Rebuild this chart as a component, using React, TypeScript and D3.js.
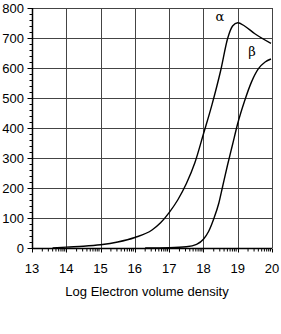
import React, { useRef, useEffect } from 'react';
import * as d3 from 'd3';

// log electron volume density vs value
const alphaX = [13.6, 14, 14.5, 15, 15.5, 16, 16.5, 16.75, 17, 17.25, 17.5, 17.75, 18, 18.25, 18.5, 18.71, 18.85, 19.0, 19.2, 19.5, 19.97];
const alphaY = [0, 3, 6, 11, 20, 35, 60, 84, 118, 160, 214, 284, 380, 478, 590, 700, 740, 751, 740, 714, 682];

const betaX = [16.3, 17, 17.5, 17.8, 18, 18.15, 18.31, 18.45, 18.56, 18.7, 18.85, 19.0, 19.2, 19.4, 19.6, 19.8, 19.97];
const betaY = [0, 1, 4, 12, 29, 55, 100, 150, 205, 275, 345, 415, 490, 553, 597, 620, 630];

const xTicks = [13, 14, 15, 16, 17, 18, 19, 20];
const yTicks = [0, 100, 200, 300, 400, 500, 600, 700, 800];
const xTitle = 'Log Electron volume density';

const App = () => {
    const ref = useRef<SVGSVGElement>(null);

    useEffect(() => {
        const svg = d3.select(ref.current);
        svg.selectAll('*').remove();

        const left = 32, right = 272, top = 8, bottom = 248;
        const font = '"Liberation Sans", Arial, Helvetica, sans-serif';

        const x = d3.scaleLinear().domain([13, 20]).range([left, right]);
        const y = d3.scaleLinear().domain([0, 800]).range([bottom, top]);
        const crisp = (v: number) => Math.round(v) + 0.5;

        // grid
        const grid = svg.append('g').attr('stroke', '#444').attr('stroke-width', 1);
        grid.selectAll('line.v')
            .data(xTicks.slice(1))
            .enter()
            .append('line')
            .attr('x1', d => crisp(x(d))).attr('x2', d => crisp(x(d)))
            .attr('y1', top).attr('y2', bottom);
        grid.selectAll('line.h')
            .data(yTicks.slice(1))
            .enter()
            .append('line')
            .attr('x1', left).attr('x2', right)
            .attr('y1', d => crisp(y(d))).attr('y2', d => crisp(y(d)));

        // y minor ticks (every 20)
        const yMinor = d3.range(0, 801, 20).filter(v => v % 100 !== 0);
        svg.append('g').attr('stroke', '#000')
            .selectAll('line')
            .data(yMinor)
            .enter()
            .append('line')
            .attr('x1', crisp(x(13)) - 3).attr('x2', crisp(x(13)))
            .attr('y1', d => crisp(y(d))).attr('y2', d => crisp(y(d)));
        svg.append('g').attr('stroke', '#000')
            .selectAll('line')
            .data(yTicks)
            .enter()
            .append('line')
            .attr('x1', crisp(x(13)) - 5).attr('x2', crisp(x(13)))
            .attr('y1', d => crisp(y(d))).attr('y2', d => crisp(y(d)));

        // x minor ticks at log positions
        const xMinor: number[] = [];
        xTicks.slice(0, -1).forEach(t => d3.range(2, 10).forEach(k => xMinor.push(t + Math.log10(k))));
        svg.append('g').attr('stroke', '#000')
            .selectAll('line')
            .data(xMinor)
            .enter()
            .append('line')
            .attr('x1', d => x(d)).attr('x2', d => x(d))
            .attr('y1', crisp(y(0))).attr('y2', crisp(y(0)) + 3);
        svg.append('g').attr('stroke', '#000')
            .selectAll('line')
            .data(xTicks)
            .enter()
            .append('line')
            .attr('x1', d => crisp(x(d))).attr('x2', d => crisp(x(d)))
            .attr('y1', crisp(y(0))).attr('y2', crisp(y(0)) + 4);

        // axes lines
        svg.append('line')
            .attr('x1', crisp(left)).attr('x2', crisp(left))
            .attr('y1', top).attr('y2', crisp(bottom))
            .attr('stroke', '#000').attr('stroke-width', 1.5);
        svg.append('line')
            .attr('x1', left).attr('x2', right)
            .attr('y1', crisp(bottom)).attr('y2', crisp(bottom))
            .attr('stroke', '#000').attr('stroke-width', 1.5);

        // tick labels
        svg.selectAll('text.yl')
            .data(yTicks)
            .enter()
            .append('text')
            .attr('x', left - 8)
            .attr('y', d => y(d) + 4.5)
            .attr('text-anchor', 'end')
            .style('font-family', font).style('font-size', '13px')
            .text(d => d);
        svg.selectAll('text.xl')
            .data(xTicks)
            .enter()
            .append('text')
            .attr('x', d => x(d))
            .attr('y', 273)
            .attr('text-anchor', 'middle')
            .style('font-family', font).style('font-size', '13px')
            .text(d => d);

        svg.append('text')
            .attr('x', 147)
            .attr('y', 296)
            .attr('text-anchor', 'middle')
            .style('font-family', font).style('font-size', '13px')
            .text(xTitle);

        // curves
        const line = d3.line<[number, number]>()
            .x(d => x(d[0]))
            .y(d => y(d[1]))
            .curve(d3.curveMonotoneX);
        [[alphaX, alphaY], [betaX, betaY]].forEach(([xs, ys]) => {
            svg.append('path')
                .datum(xs.map((v, i) => [v, ys[i]] as [number, number]))
                .attr('d', line)
                .attr('fill', 'none')
                .attr('stroke', '#000')
                .attr('stroke-width', 1.4);
        });

        // series labels
        svg.append('text').attr('x', 220).attr('y', 21).attr('text-anchor', 'middle')
            .style('font-family', '"DejaVu Serif", serif').style('font-size', '13px').text('α');
        svg.append('text').attr('x', 252).attr('y', 56).attr('text-anchor', 'middle')
            .style('font-family', '"DejaVu Serif", serif').style('font-size', '13px').text('β');
    }, []);

    return (
        <div style={{ position: 'absolute', left: 0, top: 0 }}>
            <svg ref={ref} width={281} height={334} style={{ display: 'block', background: '#fff' }} />
        </div>
    );
};

export default App;
